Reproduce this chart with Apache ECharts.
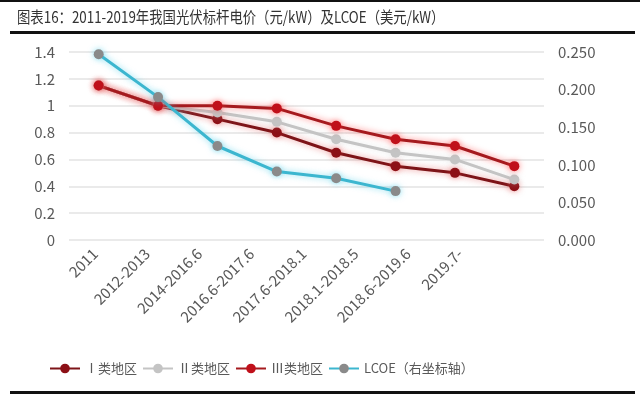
<!DOCTYPE html>
<html>
<head>
    <meta charset="utf-8">
    <title>光伏标杆电价及LCOE</title>
    <script src="https://cdn.jsdelivr.net/npm/echarts@6/dist/echarts.min.js"></script>
    <style>
        body { margin: 0; background: #fff; }
    </style>
</head>
<body>
<div id="chart" style="width: 640px; height: 399px;"></div>
<script>
    // 数据
    var categories = ['2011', '2012-2013', '2014-2016.6', '2016.6-2017.6', '2017.6-2018.1', '2018.1-2018.5', '2018.6-2019.6', '2019.7-'];
    var type1 = [1.15, 1.0, 0.9, 0.8, 0.65, 0.55, 0.5, 0.4];
    var type2 = [1.15, 1.0, 0.95, 0.88, 0.75, 0.65, 0.6, 0.45];
    var type3 = [1.15, 1.0, 1.0, 0.98, 0.85, 0.75, 0.7, 0.55];
    var lcoe = [0.247, 0.19, 0.125, 0.091, 0.082, 0.065, null, null];

    var chart = echarts.init(document.getElementById('chart'));
    var font = '"Noto Sans CJK SC", "Noto Sans", sans-serif';

    function lineSeries(name, data, color, glow, markColor, yIndex) {
        return {
            name: name,
            type: 'line',
            yAxisIndex: yIndex || 0,
            data: data,
            symbol: 'circle',
            symbolSize: 10,
            connectNulls: false,
            lineStyle: { color: color, width: 3, shadowColor: glow, shadowBlur: 6 },
            itemStyle: { color: markColor || color, shadowColor: glow, shadowBlur: 6 }
        };
    }

    var option = {
        animation: false,
        textStyle: { fontFamily: font },
        graphic: [
            { type: 'rect', shape: { x: 0, y: 0, width: 640, height: 2 }, style: { fill: '#111' } },
            { type: 'text', x: 17, y: 9, scaleX: 0.835, style: {
                text: '图表16：2011-2019年我国光伏标杆电价（元/kW）及LCOE（美元/kW）',
                font: '16px ' + font, fill: '#333' } },
            { type: 'rect', shape: { x: 10, y: 31, width: 625, height: 3 }, style: { fill: '#111' } },
            { type: 'rect', shape: { x: 10, y: 391, width: 625, height: 3 }, style: { fill: '#111' } }
        ],
        grid: [
            { left: 69, right: 96, top: 52, bottom: 159 },
            // 标签用的坐标（原图的横轴标签比数据点排得更紧）
            { left: 69, right: 154, top: 52, bottom: 159 }
        ],
        legend: {
            top: 357,
            left: 44,
            itemWidth: 30,
            itemHeight: 12,
            itemGap: 5,
            textStyle: { fontSize: 13, color: '#595959', fontFamily: font },
            data: ['Ⅰ类地区', 'Ⅱ类地区', 'Ⅲ类地区', 'LCOE（右坐标轴）']
        },
        xAxis: [
            {
                type: 'category',
                data: categories,
                boundaryGap: true,
                axisLine: { show: false },
                axisTick: { show: false },
                axisLabel: { show: false }
            },
            {
                type: 'category',
                gridIndex: 1,
                data: categories,
                boundaryGap: true,
                axisLine: { show: false },
                axisTick: { show: false },
                axisLabel: { rotate: 45, fontSize: 15, color: '#595959', margin: 11, interval: 0 }
            }
        ],
        yAxis: [
            {
                type: 'value',
                min: 0, max: 1.4, interval: 0.2,
                axisLabel: { fontSize: 15, color: '#595959', margin: 14,
                    formatter: function (v) { return String(Math.round(v * 10) / 10); } },
                splitLine: { lineStyle: { color: '#e3e3e3', width: 1.5 } },
                axisLine: { show: false },
                axisTick: { show: false }
            },
            {
                type: 'value',
                min: 0, max: 0.25, interval: 0.05,
                position: 'right',
                axisLabel: { fontSize: 15, color: '#595959', margin: 14,
                    formatter: function (v) { return v.toFixed(3); } },
                splitLine: { show: false },
                axisLine: { show: false },
                axisTick: { show: false }
            },
            {
                type: 'value',
                gridIndex: 1,
                show: false
            }
        ],
        series: [
            lineSeries('Ⅰ类地区', type1, '#7d1418', 'rgba(220,40,40,0.5)', '#8c1016'),
            lineSeries('Ⅱ类地区', type2, '#c4c4c4', 'rgba(200,200,200,0.4)', '#c4c4c4'),
            lineSeries('Ⅲ类地区', type3, '#a51a1e', 'rgba(255,40,40,0.6)', '#c0101a'),
            lineSeries('LCOE（右坐标轴）', lcoe, '#3cb6cf', 'rgba(60,200,230,0.6)', '#8a8a8a', 1)
        ]
    };
    chart.setOption(option);
</script>
</body>
</html>
